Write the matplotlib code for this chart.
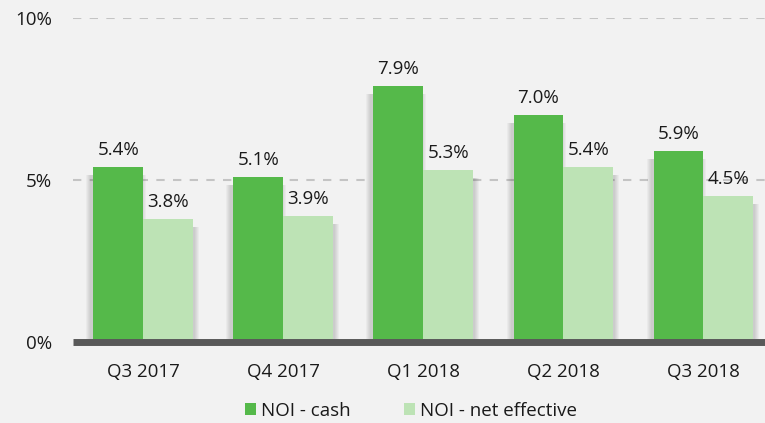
import matplotlib
matplotlib.use("Agg")
import matplotlib.pyplot as plt
from matplotlib.patches import Patch
import numpy as np

categories = ["Q3 2017", "Q4 2017", "Q1 2018", "Q2 2018", "Q3 2018"]
noi_cash = [5.4, 5.1, 7.9, 7.0, 5.9]
noi_net_effective = [3.8, 3.9, 5.3, 5.4, 4.5]
series_names = ["NOI - cash", "NOI - net effective"]
yticks = [0, 5, 10]

plt.rcParams['font.family'] = ['Open Sans', 'DejaVu Sans']
BG = "#f2f2f2"
C_CASH = "#55b94a"
C_NET = "#bde3b5"
TXT = "#1a1a1a"
FS = 13.5

fig = plt.figure(figsize=(7.65, 4.23), dpi=100, facecolor=BG)
ax = fig.add_axes([73/765, 81/423, 1 - 73/765, (342-18)/423])
ax.set_facecolor(BG)

x = np.arange(len(categories))
w = 0.355
px = 1/140.0

# soft shadows behind bars
for vals, off, shift in [(noi_cash, -w/2, -2*px), (noi_net_effective, w/2, 1*px)]:
    for k in range(1, 6):
        ax.bar(x + off + shift, np.array(vals) - 0.25, width=w + 2*k*px, bottom=0,
               color="#000000", alpha=0.03, zorder=2, linewidth=0)

ax.bar(x - w/2, noi_cash, width=w, color=C_CASH, zorder=3, linewidth=0)
ax.bar(x + w/2, noi_net_effective, width=w, color=C_NET, zorder=3, linewidth=0)

for i in range(len(categories)):
    ax.text(x[i] - w/2, noi_cash[i] + 0.25, f"{noi_cash[i]:.1f}%", ha="center",
            va="bottom", fontsize=FS, color=TXT, zorder=4)
    ax.text(x[i] + w/2, noi_net_effective[i] + 0.25, f"{noi_net_effective[i]:.1f}%",
            ha="center", va="bottom", fontsize=FS, color=TXT, zorder=4)

ax.set_xlim(-0.5, 4.44)
ax.set_ylim(0, 10)
ax.set_yticks(yticks)
ax.set_yticklabels([f"{v}%" for v in yticks], fontsize=FS, color=TXT)
ax.set_xticks(x)
ax.set_xticklabels(categories, fontsize=FS, color=TXT)
ax.tick_params(axis="y", length=0, pad=15)
ax.tick_params(axis="x", length=0, pad=15)

for v in yticks[1:]:
    ax.axhline(v, color="#c4c4c4", linestyle=(0, (4, 4)), linewidth=1.5, zorder=1)
ax.axhline(0, color="#595959", linewidth=5, zorder=5, clip_on=False, solid_capstyle="butt")

for s in ax.spines.values():
    s.set_visible(False)

handles = [Patch(facecolor=C_CASH, edgecolor="none"), Patch(facecolor=C_NET, edgecolor="none")]
fig.legend(handles, series_names, loc="center", bbox_to_anchor=(411/765, 12/423), ncol=2,
           frameon=False, fontsize=FS, handlelength=0.6, handleheight=0.6,
           handletextpad=0.3, columnspacing=2.8, labelcolor=TXT)

fig.savefig("out.png", dpi=100, facecolor=BG)
